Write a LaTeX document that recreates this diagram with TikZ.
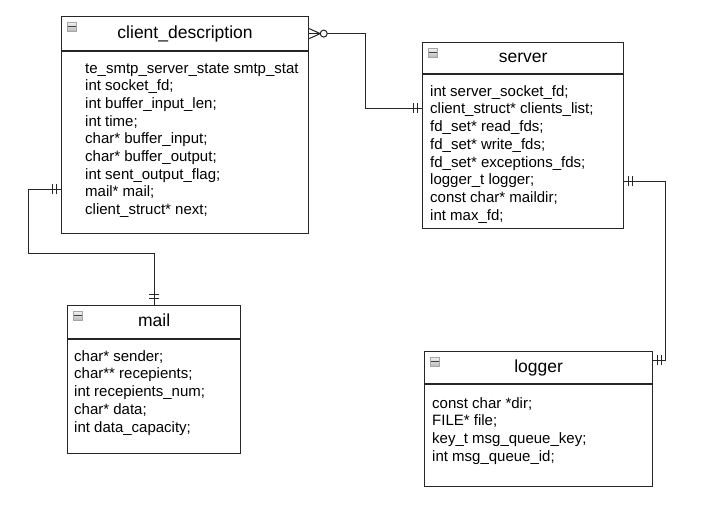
\documentclass[tikz,border=0pt]{standalone}
\usepackage{fontspec}
\setmainfont{Liberation Sans}
\usepackage{tikz}
\usetikzlibrary{positioning}
\tikzstyle{head} = [rectangle, draw=black!85, line width=1.2pt, inner sep=0pt, text height=12.5pt, text depth=3.5pt, font=\fontsize{17.5}{20}\selectfont]
\tikzstyle{body} = [rectangle, draw=black!85, line width=1.2pt, inner sep=0pt]
\tikzstyle{fields} = [inner sep=0pt, align=left, font=\fontsize{15}{17.7}\selectfont]
\tikzstyle{icon} = [rectangle, draw=gray!70, top color=gray!10, bottom color=gray!55, minimum size=9pt, inner sep=0pt, path picture={\draw [black!75, line width=1.4pt] (path picture bounding box.west) -- (path picture bounding box.east);}]
\tikzstyle{link} = [line width=1pt, draw=black!85]
\tikzset{
  mandone/.pic={\draw [link] (-4.5,-5) -- (-4.5,5) (-8.5,-5) -- (-8.5,5);},
  zeromany/.pic={\draw [link] (0,-5) -- (11,0) -- (0,5); \draw [link, fill=white] (14.5,0) circle (3.5pt);}
}

\begin{document}
\begin{tikzpicture}[x=1pt, y=-1pt]
\useasboundingbox (0,0) rectangle (719,518);

% Nodes
\node (clienthead) [head, minimum width=247pt, minimum height=34pt, anchor=north west] at (61,16) {client\_description};
\node (clientbody) [body, minimum width=247pt, minimum height=182pt, below=0pt of clienthead] {};
\node (clienticon) [icon, below right=6pt and 6pt of clienthead.north west] {};
\node (clientfields) [fields, below right=12pt and 24pt of clientbody.north west] {te\_smtp\_server\_state smtp\_stat\\ int socket\_fd;\\ int buffer\_input\_len;\\ int time;\\ char* buffer\_input;\\ char* buffer\_output;\\ int sent\_output\_flag;\\ mail* mail;\\ client\_struct* next;};

\node (serverhead) [head, minimum width=201pt, minimum height=31pt, anchor=north west] at (422,42) {server};
\node (serverbody) [body, minimum width=201pt, minimum height=154pt, below=0pt of serverhead] {};
\node (servericon) [icon, below right=6pt and 6pt of serverhead.north west] {};
\node (serverfields) [fields, below right=11pt and 8pt of serverbody.north west] {int server\_socket\_fd;\\ client\_struct* clients\_list;\\ fd\_set* read\_fds;\\ fd\_set* write\_fds;\\ fd\_set* exceptions\_fds;\\ logger\_t logger;\\ const char* maildir;\\ int max\_fd;};

\node (mailhead) [head, minimum width=173pt, minimum height=33pt, anchor=north west] at (67,305) {mail};
\node (mailbody) [body, minimum width=173pt, minimum height=114pt, below=0pt of mailhead] {};
\node (mailicon) [icon, below right=6pt and 6pt of mailhead.north west] {};
\node (mailfields) [fields, below right=11pt and 7pt of mailbody.north west] {char* sender;\\ char** recepients;\\ int recepients\_num;\\ char* data;\\ int data\_capacity;};

\node (loggerhead) [head, minimum width=228pt, minimum height=32pt, anchor=north west] at (424,351) {logger};
\node (loggerbody) [body, minimum width=228pt, minimum height=102pt, below=0pt of loggerhead] {};
\node (loggericon) [icon, below right=6pt and 6pt of loggerhead.north west] {};
\node (loggerfields) [fields, below right=13pt and 8pt of loggerbody.north west] {const char *dir;\\ FILE* file;\\ key\_t msg\_queue\_key;\\ int msg\_queue\_id;};

% Arrows
\draw [link] (clienthead.east) -- ++(56,0) |- ([yshift=-34pt]serverbody.north west);
\draw [link] ([yshift=-138pt]clientbody.north west) -- ++(-33,0) |- ([yshift=51pt]mailhead.north) -- (mailhead.north);
\draw [link] ([yshift=-107pt]serverbody.north east) -- ++(41,0) |- ([yshift=-9pt]loggerhead.north east);

% Ends
\pic at (clienthead.east) {zeromany};
\pic at ([yshift=-34pt]serverbody.north west) {mandone};
\pic at ([yshift=-138pt]clientbody.north west) {mandone};
\pic [rotate=-90] at ([yshift=2pt]mailhead.north) {mandone};
\pic [rotate=180] at ([yshift=-107pt]serverbody.north east) {mandone};
\pic [rotate=180] at ([yshift=-9pt]loggerhead.north east) {mandone};

\end{tikzpicture}
\end{document}
